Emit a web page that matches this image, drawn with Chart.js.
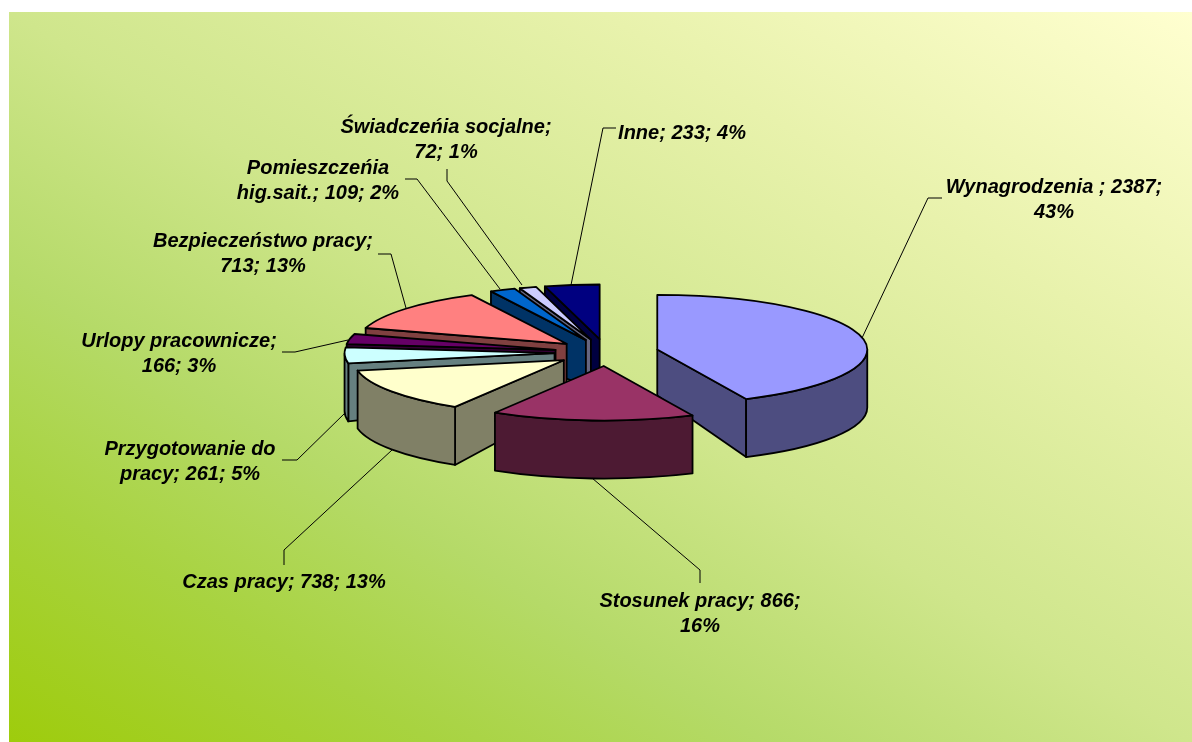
<!DOCTYPE html>
<html><head><meta charset="utf-8">
<style>html,body{margin:0;padding:0;background:#fff}canvas{display:block}</style>
<script src="https://cdn.jsdelivr.net/npm/chart.js@4"></script>
</head><body>
<canvas id="c" width="1192" height="742"></canvas>
<script>
const categories = ["Wynagrodzenia","Stosunek pracy","Czas pracy","Przygotowanie do pracy","Urlopy pracownicze","Bezpieczeństwo pracy","Pomieszczeńia hig.sait.","Świadczeńia socjalne","Inne"];
const values = [2387,866,738,261,166,713,109,72,233];
const topColors = ["#9999ff","#993366","#ffffcc","#ccffff","#660066","#ff8080","#0066cc","#ccccff","#000080"];
const wallColors = ["#4d4d80","#4d1a33","#808066","#668080","#330033","#804040","#003366","#666680","#000040"];
const labelLines = [
  ["Wynagrodzenia ; 2387;","43%"],
  ["Stosunek pracy; 866;","16%"],
  ["Czas pracy; 738; 13%"],
  ["Przygotowanie do","pracy; 261; 5%"],
  ["Urlopy pracownicze;","166; 3%"],
  ["Bezpieczeństwo pracy;","713; 13%"],
  ["Pomieszczeńia","hig.sait.; 109; 2%"],
  ["Świadczeńia socjalne;","72; 1%"],
  ["Inne; 233; 4%"]
];
const labelAnchors = [[1054,187],[700,601],[284,582],[190,449],[179,341],[263,241],[318,168],[446,127],[682,133]];
const leaderPaths = [
  [[862,338],[928,198],[942,198]],
  [[592,478],[700,570],[700,583]],
  [[392,450],[284,550],[284,565]],
  [[345,413],[297,460],[282,460]],
  [[348,340],[295,352],[282,352]],
  [[406,308],[391,254],[378,254]],
  [[500,289],[417,179],[405,179]],
  [[522,285],[447,181],[447,169]],
  [[571,285],[603,128],[616,128]]
];
const gradientStops = [[0,"#9ecc0c"],[0.18,"#a8d340"],[0.32,"#b5da68"],[0.5,"#cfe68c"],[0.75,"#e8f2ac"],[1,"#ffffd0"]];
const FLATTEN = 0.26, DEPTH = 58, APEX_DEPTH = 46, EXPLODE = 52, RADIUS = 210;
const LINE_H = 25;

const pie3d = {
  id: 'pie3d',
  beforeDraw(chart) {
    const c = chart.ctx, x0 = 9, y0 = 12, W = 1183, H = 730;
    const L = Math.hypot(W, H), nx = H / L, ny = -W / L, t = W * H / L;
    const mx = x0 + W / 2, my = y0 + H / 2;
    const g = c.createLinearGradient(mx - nx * t, my - ny * t, mx + nx * t, my + ny * t);
    gradientStops.forEach(s => g.addColorStop(s[0], s[1]));
    c.save();
    c.fillStyle = "#fff"; c.fillRect(0, 0, chart.width, chart.height);
    c.fillStyle = g; c.fillRect(x0, y0, W, H);
    c.restore();
  },
  beforeDatasetDraw(chart, args) {
    const c = chart.ctx, arcs = chart.getDatasetMeta(args.index).data;
    const items = arcs.map((a, i) => {
      const p = a.getProps(['x','y','startAngle','endAngle','outerRadius']);
      const mid = (p.startAngle + p.endAngle) / 2, off = a.options.offset;
      return { i, mid, t1: p.startAngle, t2: p.endAngle, rx: p.outerRadius, ry: p.outerRadius * FLATTEN,
               cx: p.x + Math.cos(mid) * off, cy: p.y + Math.sin(mid) * off * FLATTEN };
    }).sort((a, b) => Math.sin(a.mid) - Math.sin(b.mid));
    c.save();
    c.lineWidth = 1.8; c.strokeStyle = "#000"; c.lineJoin = "round";
    items.forEach(s => {
      const pt = t => [s.cx + s.rx * Math.cos(t), s.cy + s.ry * Math.sin(t)];
      c.fillStyle = wallColors[s.i];
      const face = t => {
        const o = pt(t);
        c.beginPath();
        c.moveTo(s.cx, s.cy); c.lineTo(o[0], o[1]); c.lineTo(o[0], o[1] + DEPTH);
        c.lineTo(s.cx, s.cy + APEX_DEPTH); c.closePath(); c.fill(); c.stroke();
      };
      if (Math.cos(s.t1) < -1e-6) face(s.t1);
      if (Math.cos(s.t2) > 1e-6) face(s.t2);
      const a = Math.max(s.t1, 0), b = Math.min(s.t2, Math.PI);
      if (b > a) {
        c.beginPath();
        c.ellipse(s.cx, s.cy, s.rx, s.ry, 0, a, b);
        c.ellipse(s.cx, s.cy + DEPTH, s.rx, s.ry, 0, b, a, true);
        c.closePath(); c.fill(); c.stroke();
      }
      c.fillStyle = topColors[s.i];
      c.beginPath();
      c.moveTo(s.cx, s.cy);
      c.ellipse(s.cx, s.cy, s.rx, s.ry, 0, s.t1, s.t2);
      c.closePath(); c.fill(); c.stroke();
    });
    c.restore();
    return false;
  },
  afterDatasetsDraw(chart) {
    const c = chart.ctx;
    c.save();
    c.strokeStyle = "#000"; c.lineWidth = 1;
    leaderPaths.forEach(p => {
      c.beginPath();
      p.forEach((q, k) => k ? c.lineTo(q[0], q[1]) : c.moveTo(q[0], q[1]));
      c.stroke();
    });
    c.fillStyle = "#000";
    c.font = "italic bold 20px 'Liberation Sans', Arial, sans-serif";
    c.textAlign = "center"; c.textBaseline = "middle";
    labelLines.forEach((ls, i) => ls.forEach((t, k) =>
      c.fillText(t, labelAnchors[i][0], labelAnchors[i][1] + k * LINE_H)));
    c.restore();
  }
};

new Chart(document.getElementById('c'), {
  type: 'pie',
  data: { labels: categories, datasets: [{ data: values, backgroundColor: topColors, offset: EXPLODE, radius: RADIUS, borderWidth: 0 }] },
  options: {
    responsive: false, animation: false, rotation: 0,
    layout: { padding: { left: 21, right: 0, top: 0, bottom: 37 } },
    events: [],
    plugins: { legend: { display: false }, tooltip: { enabled: false }, title: { display: false } }
  },
  plugins: [pie3d]
});
</script>
</body></html>
